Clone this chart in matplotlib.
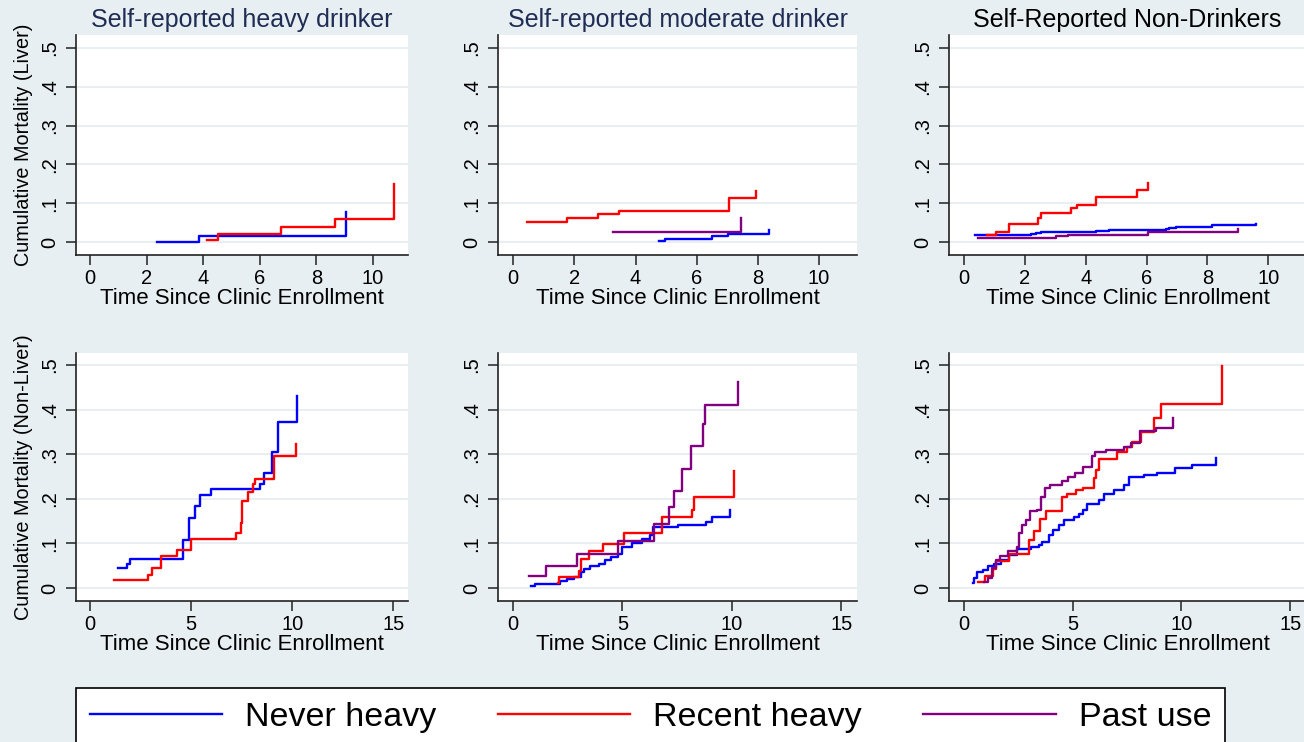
import matplotlib.pyplot as plt
from matplotlib.lines import Line2D

plt.rcParams['font.family'] = ['Liberation Sans', 'DejaVu Sans']

# cumulative mortality step curves, years since enrollment -> cumulative incidence
# --- liver deaths ---
heavy_liver_never_t = [2.36, 3.86, 9.05]
heavy_liver_never_y = [0.0, 0.016, 0.077]
heavy_liver_recent_t = [4.15, 4.53, 6.75, 8.66, 10.75]
heavy_liver_recent_y = [0.006, 0.02, 0.04, 0.059, 0.149]

moderate_liver_never_t = [4.75, 4.97, 6.49, 7.02, 8.35]
moderate_liver_never_y = [0.003, 0.009, 0.017, 0.022, 0.032]
moderate_liver_recent_t = [0.45, 1.77, 2.76, 3.46, 7.04, 7.93]
moderate_liver_recent_y = [0.051, 0.061, 0.072, 0.079, 0.113, 0.131]
moderate_liver_past_t = [3.27, 7.45]
moderate_liver_past_y = [0.025, 0.063]

non_liver_never_t = [0.34, 2.2, 2.37, 2.51, 4.34, 4.75, 6.64, 6.75, 6.97, 8.16, 9.58]
non_liver_never_y = [0.019, 0.021, 0.023, 0.027, 0.028, 0.031, 0.033, 0.037, 0.04, 0.044, 0.047]
non_liver_recent_t = [0.75, 1.03, 1.46, 2.44, 2.51, 3.5, 3.71, 4.34, 5.68, 6.06]
non_liver_recent_y = [0.018, 0.027, 0.046, 0.061, 0.076, 0.088, 0.096, 0.117, 0.135, 0.153]
non_liver_past_t = [0.47, 3.03, 3.41, 6.06, 9.02]
non_liver_past_y = [0.012, 0.015, 0.019, 0.026, 0.034]

# --- non-liver deaths ---
heavy_other_never_t = [1.37, 1.86, 2.0, 4.6, 4.9, 5.2, 5.43, 5.98, 8.39, 8.63, 9.01, 9.29, 10.23]
heavy_other_never_y = [0.046, 0.055, 0.065, 0.108, 0.158, 0.184, 0.209, 0.221, 0.233, 0.259, 0.306, 0.372, 0.43]
heavy_other_recent_t = [1.2, 2.86, 3.06, 3.54, 4.29, 5.01, 7.24, 7.46, 7.53, 7.81, 8.06, 8.14, 9.11, 10.21]
heavy_other_recent_y = [0.017, 0.03, 0.046, 0.072, 0.085, 0.111, 0.123, 0.146, 0.196, 0.215, 0.233, 0.244, 0.297, 0.322]

moderate_other_never_t = [0.84, 1.0, 2.14, 2.45, 2.8, 3.1, 3.26, 3.52, 3.95, 4.21, 4.48, 4.82,
                          5.0, 5.43, 5.89, 6.27, 6.38, 7.54, 8.8, 9.1, 9.93]
moderate_other_never_y = [0.005, 0.008, 0.016, 0.02, 0.025, 0.036, 0.042, 0.05, 0.054, 0.063, 0.07, 0.076,
                          0.093, 0.1, 0.109, 0.119, 0.137, 0.141, 0.149, 0.16, 0.176]
moderate_other_recent_t = [2.08, 2.1, 3.03, 3.1, 3.47, 4.13, 5.09, 6.81, 8.18, 8.27, 10.11]
moderate_other_recent_y = [0.011, 0.025, 0.038, 0.066, 0.082, 0.098, 0.123, 0.159, 0.176, 0.205, 0.262]
moderate_other_past_t = [0.73, 1.53, 2.94, 4.79, 6.43, 7.12, 7.36, 7.71, 8.12, 8.67, 8.77, 10.27]
moderate_other_past_y = [0.028, 0.05, 0.077, 0.105, 0.144, 0.182, 0.218, 0.266, 0.319, 0.368, 0.41, 0.462]

non_other_never_t = [0.44, 0.47, 0.6, 0.9, 1.09, 1.39, 1.7, 2.08, 2.46, 3.07, 3.46, 3.61, 3.91, 4.11,
                     4.37, 4.6, 5.06, 5.29, 5.49, 5.67, 6.21, 6.44, 6.9, 7.35, 7.58, 8.27, 8.88,
                     9.68, 10.49, 11.6]
non_other_never_y = [0.011, 0.022, 0.037, 0.041, 0.049, 0.054, 0.063, 0.075, 0.088, 0.092, 0.097, 0.104,
                     0.119, 0.131, 0.142, 0.153, 0.16, 0.166, 0.175, 0.189, 0.198, 0.211, 0.22, 0.231,
                     0.249, 0.254, 0.259, 0.269, 0.276, 0.291]
non_other_recent_t = [0.66, 0.98, 1.35, 1.47, 2.08, 3.0, 3.23, 3.49, 3.79, 4.5, 4.76, 5.14, 5.49, 5.98,
                      6.08, 6.21, 7.05, 7.51, 7.74, 8.12, 8.76, 9.04, 11.87]
non_other_recent_y = [0.013, 0.026, 0.043, 0.06, 0.076, 0.108, 0.129, 0.154, 0.172, 0.204, 0.211, 0.22,
                      0.224, 0.246, 0.265, 0.29, 0.304, 0.316, 0.328, 0.351, 0.381, 0.412, 0.498]
non_other_past_t = [0.93, 1.09, 1.31, 1.47, 1.67, 2.03, 2.46, 2.54, 2.69, 2.84, 3.03, 3.35, 3.53, 3.72,
                    3.94, 4.53, 4.79, 5.09, 5.49, 5.9, 6.01, 6.51, 7.35, 7.66, 8.09, 8.85, 9.62]
non_other_past_y = [0.013, 0.022, 0.045, 0.063, 0.072, 0.084, 0.092, 0.123, 0.142, 0.153, 0.172, 0.176,
                    0.205, 0.224, 0.231, 0.239, 0.249, 0.259, 0.272, 0.295, 0.304, 0.31, 0.316, 0.326,
                    0.353, 0.358, 0.381]

titles = ['Self-reported heavy drinker', 'Self-reported moderate drinker', 'Self-Reported Non-Drinkers']
title_colors = ['#1f2d54', '#1f2d54', 'black']
ylabels = ['Cumulative Mortality (Liver)', 'Cumulative Mortality (Non-Liver)']
group_names = ['Never heavy', 'Recent heavy', 'Past use']
group_colors = ['#0000ff', '#ff0000', '#800080']
y_ticks = [0, 0.1, 0.2, 0.3, 0.4, 0.5]
y_ticklabels = ['0', '.1', '.2', '.3', '.4', '.5']
top_xticks = [0, 2, 4, 6, 8, 10]
bottom_xticks = [0, 5, 10, 15]

panels = [
    [[(heavy_liver_never_t, heavy_liver_never_y), (heavy_liver_recent_t, heavy_liver_recent_y), None],
     [(moderate_liver_never_t, moderate_liver_never_y), (moderate_liver_recent_t, moderate_liver_recent_y),
      (moderate_liver_past_t, moderate_liver_past_y)],
     [(non_liver_never_t, non_liver_never_y), (non_liver_recent_t, non_liver_recent_y),
      (non_liver_past_t, non_liver_past_y)]],
    [[(heavy_other_never_t, heavy_other_never_y), (heavy_other_recent_t, heavy_other_recent_y), None],
     [(moderate_other_never_t, moderate_other_never_y), (moderate_other_recent_t, moderate_other_recent_y),
      (moderate_other_past_t, moderate_other_past_y)],
     [(non_other_never_t, non_other_never_y), (non_other_recent_t, non_other_recent_y),
      (non_other_past_t, non_other_past_y)]],
]

bg = '#e8eff2'
W, H = 1304, 742
fig = plt.figure(figsize=(W / 100, H / 100), dpi=100, facecolor=bg)

# panel boxes in pixels: left, right per column; top, bottom per row
col_px = [(76, 408), (498, 857), (949, 1306)]
row_px = [(35, 255), (353, 601)]
row_xlim = [(-0.5, 11.24), (-0.68, 15.72)]
row_ylim = [(-0.033, 0.533), (-0.029, 0.527)]
xlabel_px = [299, 645]

for r in range(2):
    for c in range(3):
        x0, x1 = col_px[c]
        y0, y1 = row_px[r]
        ax = fig.add_axes([x0 / W, 1 - y1 / H, (x1 - x0) / W, (y1 - y0) / H])
        ax.set_facecolor('white')
        for (curve, col) in zip(panels[r][c], group_colors):
            if curve is None:
                continue
            ax.step(curve[0], curve[1], where='post', color=col, lw=1.7, zorder=3)
        ax.set_xlim(*row_xlim[r])
        ax.set_ylim(*row_ylim[r])
        ax.set_xticks(top_xticks if r == 0 else bottom_xticks)
        ax.set_yticks(y_ticks)
        ax.set_yticklabels(y_ticklabels, rotation=90, va='center')
        ax.grid(axis='y', color='#e6edf0', lw=1.3, zorder=0)
        for s in ['top', 'right']:
            ax.spines[s].set_visible(False)
        for s in ['left', 'bottom']:
            ax.spines[s].set_color('#222222')
            ax.spines[s].set_linewidth(1.2)
        ax.tick_params(axis='both', length=7, width=1.1, color='#222222', labelsize=14.5)
        ax.tick_params(axis='y', pad=5)
        ax.tick_params(axis='x', pad=3)
        ax.set_xlabel('Time Since Clinic Enrollment', fontsize=16, va='center')
        ax.xaxis.set_label_coords(0.5, -(xlabel_px[r] - y1) / (y1 - y0))
        if c == 0:
            ax.set_ylabel(ylabels[r], fontsize=14.3, va='center')
            ax.yaxis.set_label_coords(-(x0 - 23) / (x1 - x0), 0.5)
        if r == 0:
            ax.text(0.5, 1 + (y0 - 27) / (y1 - y0), titles[c], transform=ax.transAxes,
                    ha='center', va='baseline', fontsize=18, color=title_colors[c])

handles = [Line2D([], [], color=col, lw=1.7) for col in group_colors]
leg = fig.legend(handles, group_names, loc='upper left', bbox_to_anchor=(76 / W, 1 - 688 / H),
                 ncol=3, fontsize=24.5, frameon=True, fancybox=False, edgecolor='black',
                 facecolor='white', framealpha=1, borderaxespad=0, borderpad=0.4,
                 handlelength=3.9, handletextpad=0.67, columnspacing=1.8)
leg.get_frame().set_linewidth(1.2)

fig.savefig('out.png', dpi=100, facecolor=bg)
